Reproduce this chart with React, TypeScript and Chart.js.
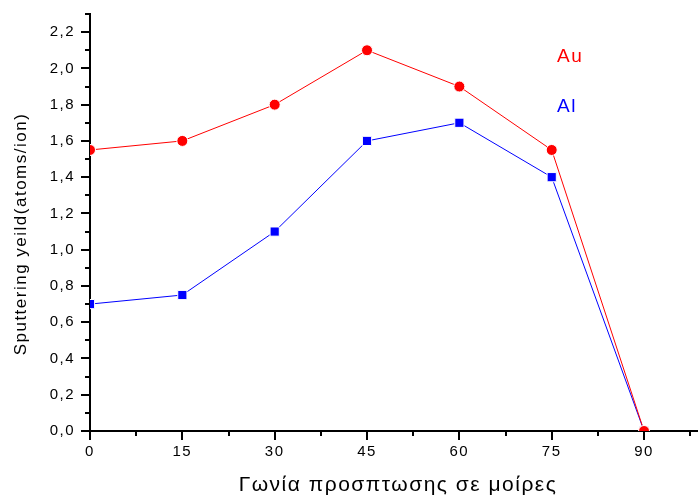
import React, { useEffect, useRef } from "react";
import { Chart, registerables } from "chart.js";

Chart.register(...registerables);

const angles = [0, 15, 30, 45, 60, 75, 90];
const auYield = [1.55, 1.6, 1.8, 2.1, 1.9, 1.55, 0];
const alYield = [0.7, 0.75, 1.1, 1.6, 1.7, 1.4, 0];
const seriesNames = ["Au", "Al"];
const xTitle = "Γωνία προσπτωσης σε μοίρες";
const yTitle = "Sputtering yeild(atoms/ion)";

const FONT = "'Liberation Sans', Arial, sans-serif";

const minorTicksPlugin = {
  id: "minorTicks",
  beforeDraw(chart: any) {
    chart.ctx.letterSpacing = "1.5px";
  },
  afterDraw(chart: any) {
    const ctx = chart.ctx;
    const xs = chart.scales.x;
    const ys = chart.scales.y;
    const area = chart.chartArea;
    ctx.save();
    ctx.letterSpacing = "0px";
    ctx.strokeStyle = "#000";
    ctx.lineWidth = 2;
    ctx.beginPath();
    // y ticks every 0.1, major every 0.2
    for (let i = 0; i <= 23; i++) {
      const v = i / 10;
      const py = Math.round(ys.getPixelForValue(v));
      const len = i % 2 === 0 ? 9 : 5;
      ctx.moveTo(area.left, py);
      ctx.lineTo(area.left - len, py);
    }
    // x ticks every 7.5, major every 15
    for (let i = 0; i <= 13; i++) {
      const v = i * 7.5;
      const px = Math.round(xs.getPixelForValue(v));
      const len = i % 2 === 0 ? 9 : 5;
      ctx.moveTo(px, area.bottom);
      ctx.lineTo(px, area.bottom + len);
    }
    ctx.stroke();

    // axis titles
    ctx.fillStyle = "#000";
    ctx.font = `21px ${FONT}`;
    ctx.letterSpacing = "1.5px";
    ctx.textAlign = "center";
    ctx.textBaseline = "alphabetic";
    ctx.fillText(xTitle, 398, 491);

    ctx.save();
    ctx.translate(26, 234);
    ctx.rotate(-Math.PI / 2);
    ctx.font = `17px ${FONT}`;
    ctx.letterSpacing = "1.5px";
    ctx.fillText(yTitle, 0, 0);
    ctx.restore();

    // series labels
    ctx.textAlign = "left";
    ctx.font = `19px ${FONT}`;
    ctx.letterSpacing = "1.5px";
    ctx.fillStyle = "#ff0000";
    ctx.fillText(seriesNames[0], 557, 62);
    ctx.fillStyle = "#0000ff";
    ctx.fillText(seriesNames[1], 557, 112);
    ctx.restore();
    ctx.letterSpacing = "0px";
  },
};

export default function App() {
  const ref = useRef<HTMLCanvasElement | null>(null);
  useEffect(() => {
    if (!ref.current) return;
    const chart = new Chart(ref.current, {
      type: "line",
      data: {
        datasets: [
          {
            label: seriesNames[0],
            data: angles.map((a, i) => ({ x: a, y: auYield[i] })),
            borderColor: "#ff0000",
            backgroundColor: "#ff0000",
            borderWidth: 1,
            pointStyle: "circle",
            pointRadius: 5.5,
            pointBorderColor: "#ffffff",
            pointBorderWidth: 1,
            pointBackgroundColor: "#ff0000",
            clip: 0,
          } as any,
          {
            label: seriesNames[1],
            data: angles.map((a, i) => ({ x: a, y: alYield[i] })),
            borderColor: "#0000ff",
            backgroundColor: "#0000ff",
            borderWidth: 1,
            pointStyle: "rect",
            pointRadius: 6.5,
            pointBorderColor: "#ffffff",
            pointBorderWidth: 1,
            pointBackgroundColor: "#0000ff",
            clip: 0,
          } as any,
        ],
      },
      options: {
        animation: false,
        responsive: false,
        events: [],
        layout: { autoPadding: false, padding: { left: 0, top: 14, right: 1, bottom: 0 } },
        plugins: { legend: { display: false }, tooltip: { enabled: false } },
        scales: {
          x: {
            type: "linear",
            min: 0,
            max: 98.6,
            grid: { display: false, drawTicks: false },
            border: { display: true, color: "#000", width: 2 },
            ticks: {
              stepSize: 15,
              includeBounds: false,
              padding: 12,
              color: "#000",
              font: { family: FONT, size: 15 },
              maxRotation: 0,
              autoSkip: false,
            },
            afterFit(scale: any) {
              scale.height = 64;
              scale.paddingLeft = 0;
              scale.paddingRight = 0;
            },
          },
          y: {
            type: "linear",
            min: 0,
            max: 2.3,
            grid: { display: false, drawTicks: false },
            border: { display: true, color: "#000", width: 2 },
            ticks: {
              stepSize: 0.2,
              includeBounds: false,
              padding: 15,
              color: "#000",
              font: { family: FONT, size: 15 },
              callback: (v: any) => Number(v).toFixed(1).replace(".", ","),
            },
            afterFit(scale: any) {
              scale.width = 90;
              scale.paddingTop = 0;
              scale.paddingBottom = 0;
            },
          },
        },
      },
      plugins: [minorTicksPlugin],
    });
    return () => chart.destroy();
  }, []);
  return (
    <div style={{ position: "fixed", left: 0, top: 0, width: 698, height: 495, background: "#fff" }}>
      <canvas ref={ref} width={698} height={495} style={{ width: 698, height: 495, display: "block" }} />
    </div>
  );
}
